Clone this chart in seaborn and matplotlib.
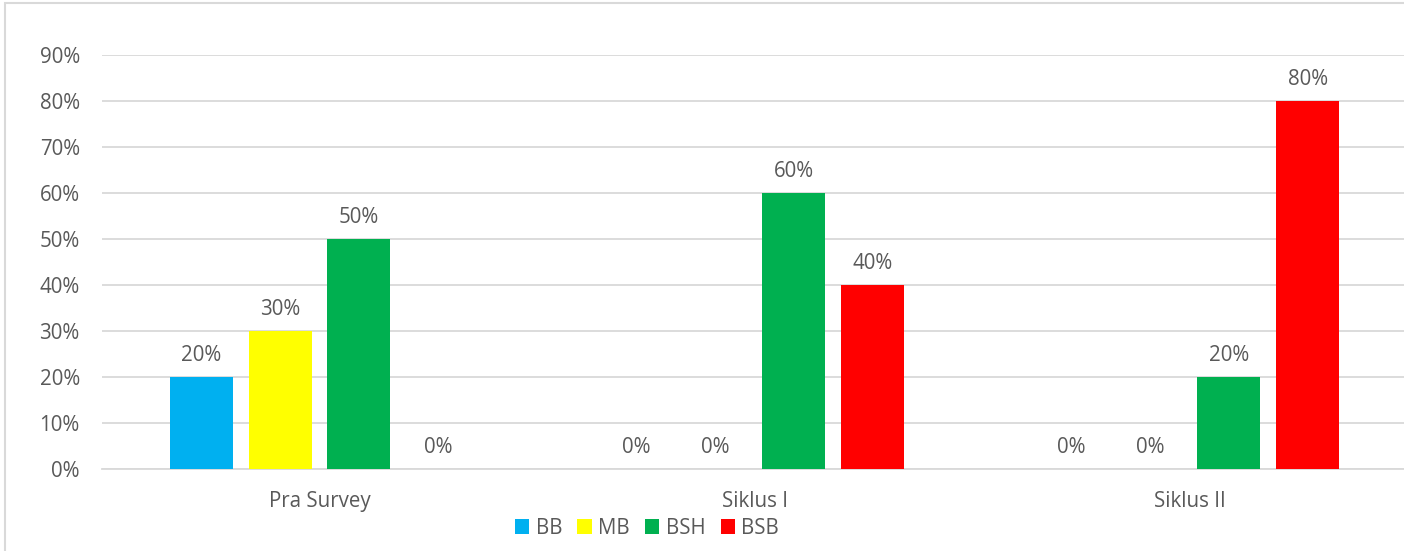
import matplotlib
matplotlib.use("Agg")
import matplotlib.pyplot as plt
from matplotlib.patches import Rectangle
from matplotlib.ticker import FuncFormatter, MultipleLocator
import seaborn as sns
import pandas as pd

categories = ["Pra Survey", "Siklus I", "Siklus II"]
series = ["BB", "MB", "BSH", "BSB"]
bb = [20, 0, 0]
mb = [30, 0, 0]
bsh = [50, 60, 20]
bsb = [0, 40, 80]
colors = ["#00B0F0", "#FFFF00", "#00B050", "#FF0000"]

rows = []
for name, vals in zip(series, [bb, mb, bsh, bsb]):
    for c, v in zip(categories, vals):
        rows.append({"cat": c, "series": name, "val": v})
df = pd.DataFrame(rows)

sns.set_theme(style="white")
plt.rcParams["font.family"] = ["Open Sans", "DejaVu Sans"]
TXT = "#595959"
GRID = "#D9D9D9"
FS = 14.8

fig = plt.figure(figsize=(14.04, 5.51), dpi=100)
W, H = 1404, 551
ax = fig.add_axes([102 / W, (H - 469) / H, (1407 - 102) / W, (469 - 55) / H])

sns.barplot(data=df, x="cat", y="val", hue="series", hue_order=series,
            order=categories, palette=colors, width=0.7264, gap=0.2025,
            saturation=1, ax=ax, legend=True, zorder=3, linewidth=0)

ax.set_ylim(0, 90)
ax.yaxis.set_major_locator(MultipleLocator(10))
ax.yaxis.set_major_formatter(FuncFormatter(lambda v, p: f"{v:.0f}%"))
ax.grid(axis="y", color=GRID, linewidth=1.3, zorder=0)
ax.set_axisbelow(True)
for s in ["top", "right", "left"]:
    ax.spines[s].set_visible(False)
ax.spines["bottom"].set_color(GRID)
ax.spines["bottom"].set_linewidth(1.3)
ax.tick_params(axis="both", length=0, labelsize=FS, colors=TXT)
ax.tick_params(axis="y", pad=16)
ax.tick_params(axis="x", pad=16)
ax.set_xlabel("")
ax.set_ylabel("")

for cont in ax.containers:
    ax.bar_label(cont, labels=[f"{v:.0f}%" for v in cont.datavalues],
                 padding=8, fontsize=FS, color=TXT)

handles, labels = ax.get_legend_handles_labels()
ax.get_legend().remove()
fig.legend(handles, labels, loc="center", bbox_to_anchor=(647 / W, 1 - 528 / H),
           ncol=4, frameon=False, fontsize=FS, labelcolor=TXT,
           handlelength=0.7, handleheight=0.7, handletextpad=0.3,
           columnspacing=0.75, borderaxespad=0)

fig.patches.append(Rectangle((5 / W, -0.1), 1.2, 1.1 - 3 / H, transform=fig.transFigure,
                             fill=False, edgecolor=GRID, linewidth=1.5, figure=fig))

fig.savefig("out.png", dpi=100, facecolor="white")
